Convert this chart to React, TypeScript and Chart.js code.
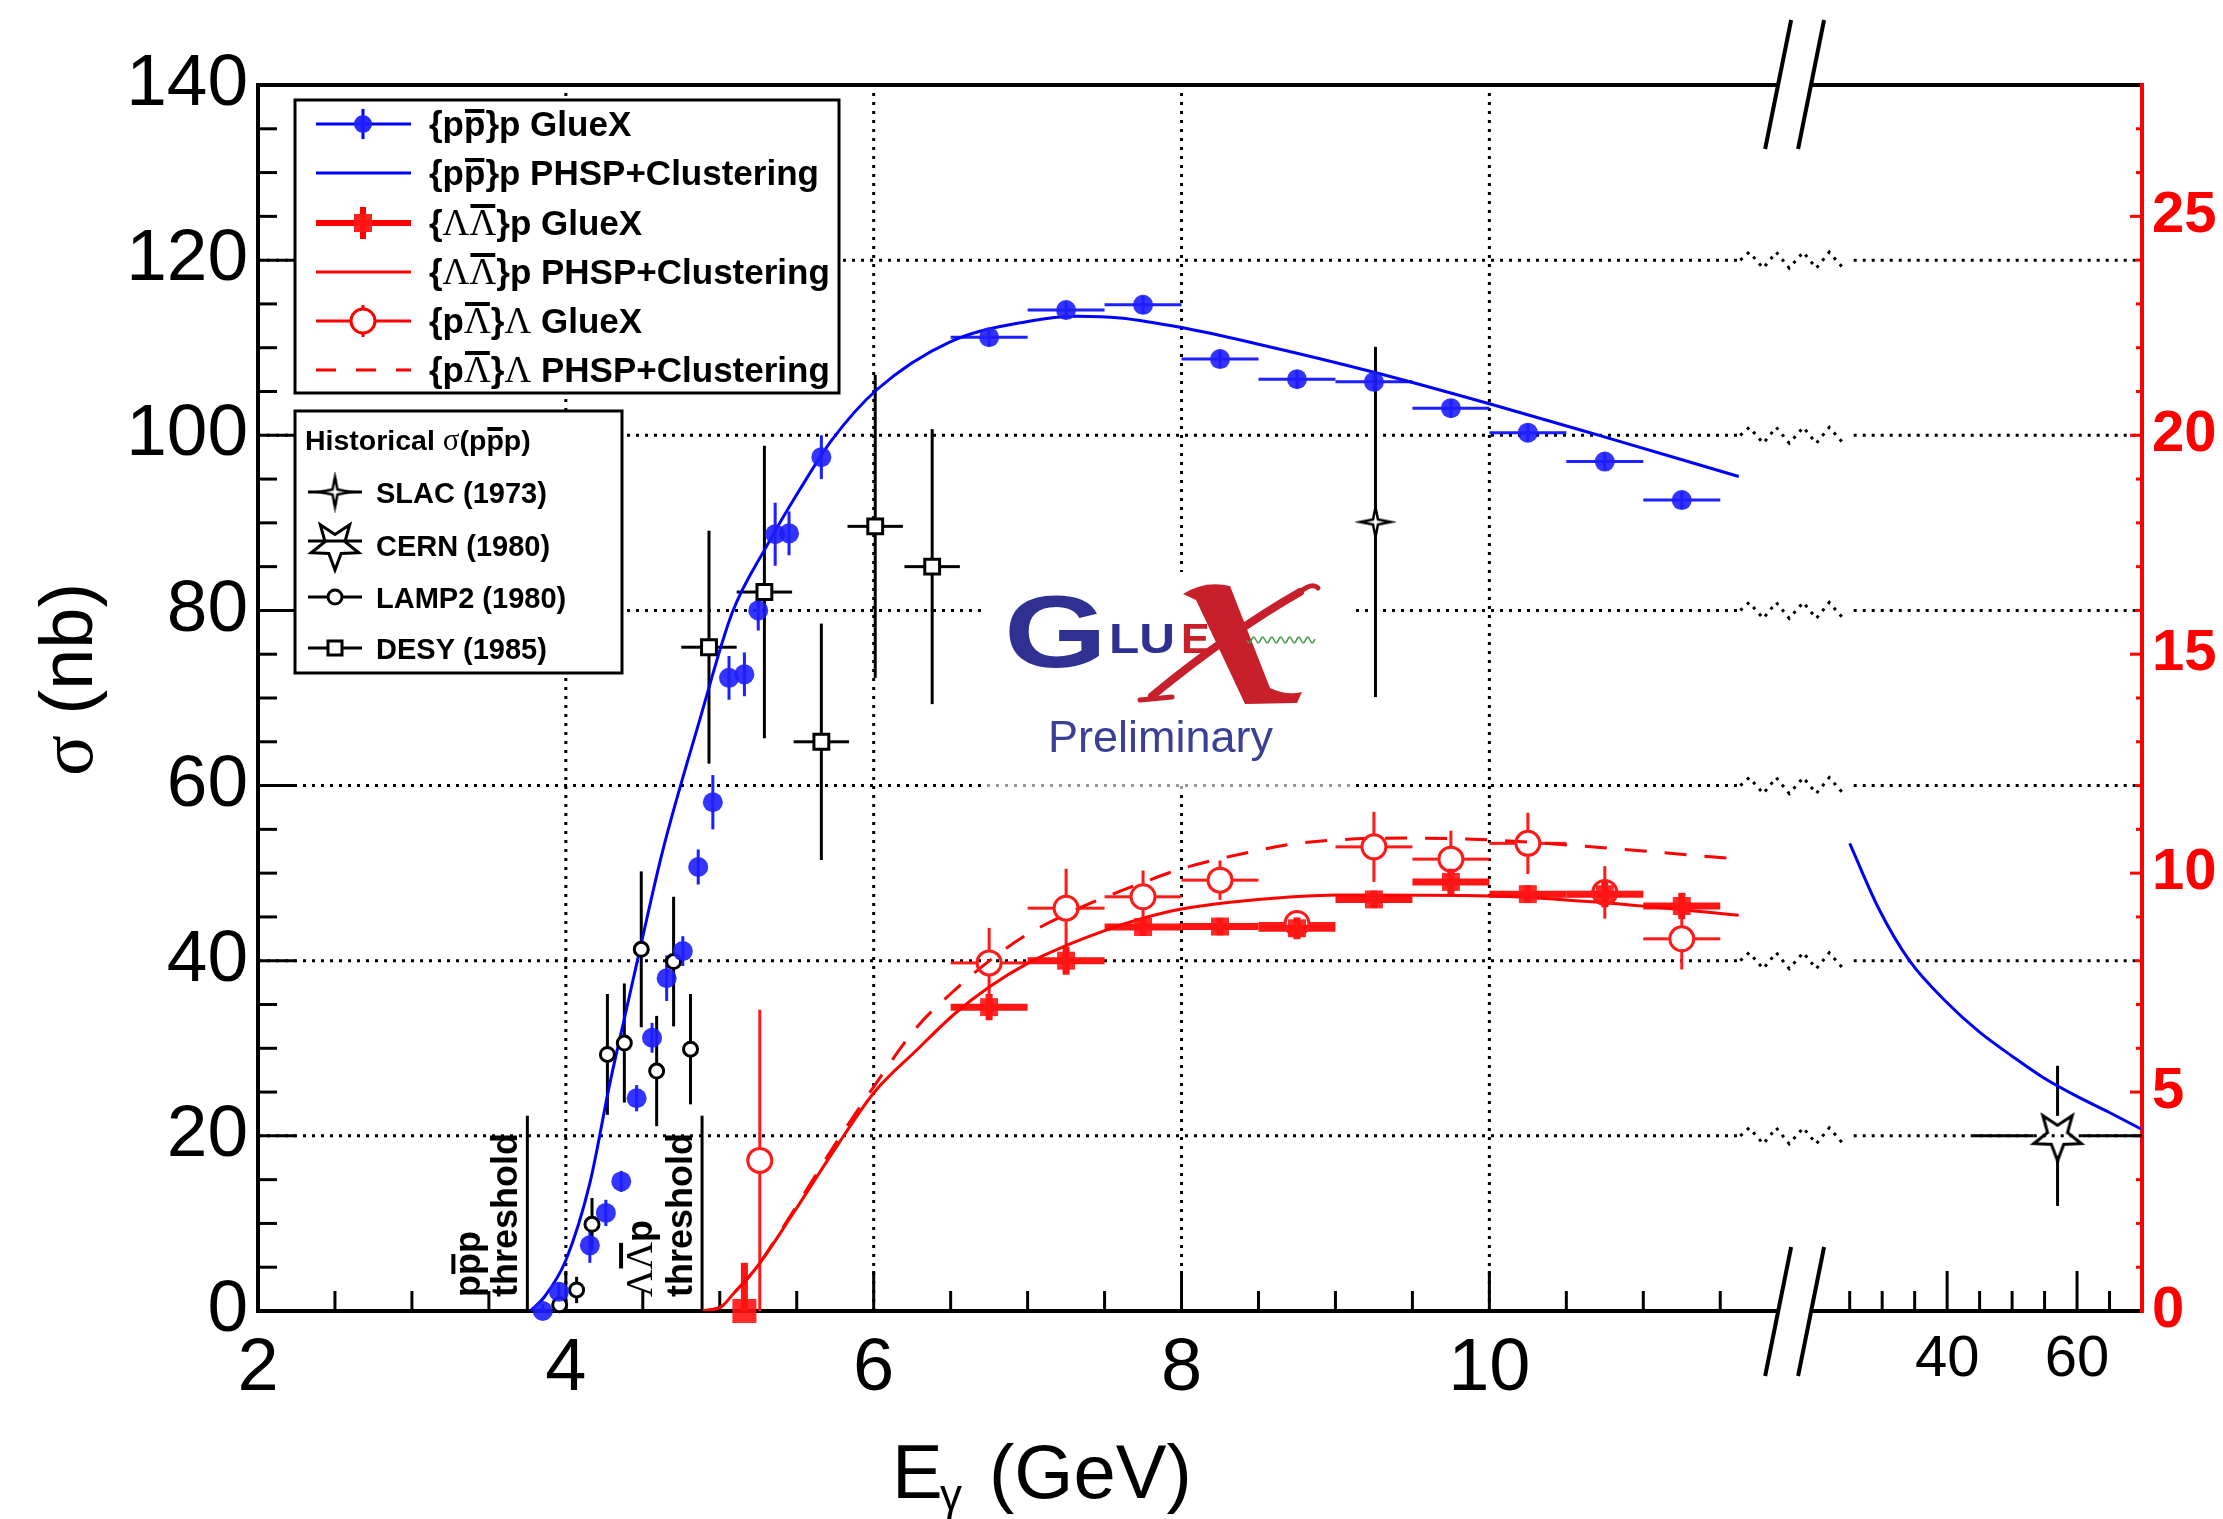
import React, { useEffect, useRef } from 'react';
import { Chart, registerables } from 'chart.js';

Chart.register(...registerables);

const FONT = '"Liberation Sans", Arial, Helvetica, sans-serif';
const SERIF = '"Liberation Serif", "Times New Roman", serif';

// ---- broken x axis: linear 2..~12 GeV, then 25..70 GeV compressed ----
const X_MIN = 2;
const X_MAX = 14.24;
const brk = (e: number) => 12.974 + (e - 40) * 0.0422;
const axisX = (e: number) => (e > 20 ? brk(e) : e);

const xTickValues = [2, 4, 6, 8, 10, 40, 60];
const xTickLabels = ['2', '4', '6', '8', '10', '40', '60'];

// ---- {p pbar}p GlueX ----
const blueE = [3.85, 3.955, 4.156, 4.26, 4.36, 4.46, 4.56, 4.655, 4.76, 4.86, 4.955, 5.06, 5.16, 5.25, 5.36, 5.45, 5.66,
  6.75, 7.25, 7.75, 8.25, 8.75, 9.25, 9.75, 10.25, 10.75, 11.25];
const blueSigma = [0.0, 2.2, 7.5, 11.2, 14.8, 24.3, 31.2, 38.0, 41.1, 50.7, 58.1, 72.3, 72.7, 80.0, 88.7, 88.8, 97.5,
  111.2, 114.3, 114.9, 108.7, 106.4, 106.1, 103.1, 100.3, 97.0, 92.6];
const blueErrY = [0.8, 1.0, 2.0, 1.5, 1.2, 1.5, 1.7, 2.6, 1.7, 2.0, 3.1, 2.5, 2.5, 2.3, 3.6, 2.5, 2.5,
  1, 1, 1, 1, 1, 1, 1, 1, 1, 1];
const blueErrX = [0, 0, 0, 0, 0, 0, 0, 0, 0, 0, 0, 0, 0, 0, 0, 0, 0,
  0.25, 0.25, 0.25, 0.25, 0.25, 0.25, 0.25, 0.25, 0.25, 0.25];

// ---- {p pbar}p PHSP+Clustering (nb) ----
const bluePhspE = [3.77, 3.86, 4.0, 4.156, 4.286, 4.383, 4.48, 4.63, 4.87, 5.08, 5.3, 5.52, 5.73, 6.02, 6.5, 7.0, 7.32, 7.6, 8.0, 8.5, 9.25, 10.0, 10.73, 11.62];
const bluePhsp = [0, 1.6, 5.8, 14.6, 26.0, 33.6, 41.2, 52.6, 67.5, 79.7, 87.2, 93.8, 99.5, 105.2, 110.7, 113.0, 113.6, 113.4, 112.3, 110.4, 107.2, 103.6, 99.9, 95.3];
const bluePhspHighE = [25, 29.5, 34.2, 40, 44.9, 50, 54.9, 60, 64.9, 69.8];
const bluePhspHigh = [53.4, 45.9, 40.0, 35.2, 31.9, 29.1, 26.6, 24.5, 22.7, 20.8];

// ---- {Lambda Lambdabar}p GlueX (right axis) ----
const llE = [5.16, 6.75, 7.25, 7.75, 8.25, 8.75, 9.25, 9.75, 10.25, 10.75, 11.25];
const llSigma = [0, 6.94, 8.0, 8.77, 8.78, 8.74, 9.4, 9.8, 9.52, 9.52, 9.25];
const llErrY = [1.1, 0.3, 0.32, 0.2, 0.2, 0.25, 0.2, 0.3, 0.2, 0.3, 0.3];
const llErrX = [0, 0.25, 0.25, 0.25, 0.25, 0.25, 0.25, 0.25, 0.25, 0.25, 0.25];

// ---- {Lambda Lambdabar}p PHSP+Clustering (right axis) ----
const llPhspE = [4.89, 5.01, 5.09, 5.24, 5.49, 5.73, 6.0, 6.28, 6.53, 6.75, 7.0, 7.26, 7.51, 7.75, 8.0, 8.3, 8.64, 9.03, 10.0, 10.76, 11.62];
const llPhsp = [0, 0.1, 0.4, 1.0, 2.3, 3.6, 4.98, 5.96, 6.8, 7.4, 7.94, 8.36, 8.7, 8.97, 9.18, 9.33, 9.44, 9.5, 9.48, 9.32, 9.04];

// ---- {p Lambdabar}Lambda GlueX (right axis) ----
const plE = [5.26, 6.75, 7.25, 7.75, 8.25, 8.75, 9.25, 9.75, 10.25, 10.75, 11.25];
const plSigma = [3.44, 7.95, 9.2, 9.46, 9.84, 8.85, 10.6, 10.32, 10.68, 9.56, 8.5];
const plErrY = [3.44, 0.8, 0.9, 0.6, 0.45, 0.25, 0.8, 0.65, 0.7, 0.6, 0.7];
const plErrX = [0, 0.25, 0.25, 0.25, 0.25, 0.25, 0.25, 0.25, 0.25, 0.25, 0.25];

// ---- {p Lambdabar}Lambda PHSP+Clustering (right axis) ----
const plPhspE = [4.89, 5.01, 5.09, 5.24, 5.49, 5.73, 6.0, 6.28, 6.53, 6.73, 6.97, 7.26, 7.51, 7.76, 8.0, 8.47, 8.8, 9.48, 10.0, 10.74, 11.62];
const plPhsp = [0, 0.1, 0.4, 1.0, 2.35, 3.7, 5.12, 6.48, 7.34, 7.94, 8.54, 9.08, 9.46, 9.8, 10.1, 10.5, 10.7, 10.8, 10.76, 10.58, 10.32];

// ---- historical ----
const slacE = [9.26];
const slacSigma = [90.1];
const slacErrY = [20];

const cernE = [57];
const cernSigma = [20];
const cernErrY = [8];
const cernErrE = [13];

const lampE = [3.96, 4.07, 4.17, 4.27, 4.38, 4.49, 4.59, 4.70, 4.81];
const lampSigma = [0.7, 2.4, 9.9, 29.3, 30.6, 41.3, 27.4, 39.9, 29.9];
const lampErrY = [0.8, 1.5, 3.0, 6.9, 6.8, 8.9, 6.3, 7.4, 6.3];

const desyE = [4.93, 5.29, 5.66, 6.01, 6.38];
const desySigma = [75.8, 82.1, 65.0, 89.6, 85.0];
const desyErrY = [13.3, 16.7, 13.5, 17.3, 15.7];
const desyErrX = [0.18, 0.18, 0.18, 0.18, 0.18];

// thresholds (GeV)
const thrPPP = 3.75;
const thrLLP = 4.885;
const thrTop = 22.3;

const pts = (xs: number[], ys: number[]) => xs.map((x, i) => ({ x: axisX(x), y: ys[i] }));

function makeStar(n: number, R: number, r: number, rot: number, lw: number, fill: string | null) {
  const size = Math.ceil(2 * R + lw * 2 + 6);
  const c = document.createElement('canvas');
  c.width = size;
  c.height = size;
  const g = c.getContext('2d')!;
  const cx = size / 2, cy = size / 2;
  g.beginPath();
  for (let i = 0; i < 2 * n; i++) {
    const ang = rot + (i * Math.PI) / n;
    const rr = i % 2 === 0 ? R : r;
    const px = cx + rr * Math.cos(ang), py = cy + rr * Math.sin(ang);
    if (i === 0) g.moveTo(px, py); else g.lineTo(px, py);
  }
  g.closePath();
  if (fill) { g.fillStyle = fill; g.fill(); }
  g.lineWidth = lw;
  g.strokeStyle = '#000';
  g.lineJoin = 'miter';
  g.stroke();
  return c;
}

type Seg = { t: string; f: string; o?: number };
function richText(ctx: CanvasRenderingContext2D, x: number, y: number, segs: Seg[]) {
  let cx = x;
  for (const s of segs) {
    ctx.font = s.f;
    const w = ctx.measureText(s.t).width;
    ctx.fillText(s.t, cx, y);
    if (s.o !== undefined) ctx.fillRect(cx + 1, y - s.o, w - 2, 4);
    cx += w;
  }
  return cx;
}

function line(ctx: CanvasRenderingContext2D, x1: number, y1: number, x2: number, y2: number) {
  ctx.beginPath();
  ctx.moveTo(x1, y1);
  ctx.lineTo(x2, y2);
  ctx.stroke();
}

function drawLogo(ctx: CanvasRenderingContext2D) {
  ctx.save();
  ctx.fillStyle = '#fff';
  ctx.fillRect(985, 572, 367, 208);
  ctx.fillStyle = 'rgba(255,255,255,0.6)';
  ctx.fillRect(985, 780, 367, 10);
  ctx.fillStyle = '#2e3192';
  ctx.save(); ctx.translate(1004, 667); ctx.scale(1.3, 1); ctx.font = `bold 102px ${FONT}`; ctx.fillText('G', 0, 0); ctx.restore();
  ctx.save(); ctx.translate(1109, 653); ctx.scale(1.15, 1); ctx.font = `bold 43px ${FONT}`; ctx.fillText('LU', 0, 0); ctx.restore();
  ctx.fillStyle = '#c8202a';
  ctx.save(); ctx.translate(1181, 653); ctx.font = `bold 43px ${FONT}`; ctx.fillText('E', 0, 0); ctx.restore();
  // calligraphic X
  ctx.beginPath();
  ctx.moveTo(1183, 594);
  ctx.quadraticCurveTo(1205, 580, 1230, 586);
  ctx.lineTo(1270, 688);
  ctx.quadraticCurveTo(1287, 696, 1302, 692);
  ctx.lineTo(1297, 703);
  ctx.lineTo(1245, 704);
  ctx.quadraticCurveTo(1215, 640, 1196, 600);
  ctx.closePath();
  ctx.fill();
  ctx.strokeStyle = '#c8202a';
  ctx.lineCap = 'round';
  ctx.lineWidth = 8;
  ctx.beginPath();
  ctx.moveTo(1300, 592);
  ctx.quadraticCurveTo(1230, 632, 1152, 696);
  ctx.stroke();
  ctx.lineWidth = 5;
  ctx.beginPath();
  ctx.moveTo(1300, 592);
  ctx.quadraticCurveTo(1312, 582, 1318, 588);
  ctx.stroke();
  ctx.beginPath();
  ctx.moveTo(1140, 700);
  ctx.lineTo(1172, 697);
  ctx.stroke();
  ctx.lineCap = 'butt';
  ctx.strokeStyle = '#4c9a4c';
  ctx.lineWidth = 1.5;
  ctx.beginPath();
  for (let xx = 1247; xx <= 1315; xx++) {
    const yy = 640 + 3 * Math.sin(((xx - 1247) / 9) * 2 * Math.PI);
    if (xx === 1247) ctx.moveTo(xx, yy); else ctx.lineTo(xx, yy);
  }
  ctx.stroke();
  ctx.fillStyle = '#3b3f95';
  ctx.font = `45px ${FONT}`;
  ctx.fillText('Preliminary', 1048, 752);
  ctx.restore();
}

export default function App() {
  const ref = useRef<HTMLCanvasElement>(null);

  useEffect(() => {
    const canvas = ref.current!;
    const star5 = makeStar(5, 25, 10.5, Math.PI / 2, 3, null);
    const star5Leg = makeStar(5, 25, 10.5, Math.PI / 2, 3, null);
    const star4 = makeStar(4, 15, 3.5, 0, 2.5, '#fff');

    const decor = {
      id: 'decor',
      beforeDatasetsDraw(chart: any) {
        const ctx: CanvasRenderingContext2D = chart.ctx;
        const a = chart.chartArea;
        const xs = chart.scales.x, ys = chart.scales.y, y2s = chart.scales.y2;
        const X = (v: number) => xs.getPixelForValue(v);
        const Y = (v: number) => ys.getPixelForValue(v);
        const Y2 = (v: number) => y2s.getPixelForValue(v);
        ctx.save();
        ctx.textAlign = 'left';
        ctx.textBaseline = 'alphabetic';

        // ---- dotted grid ----
        ctx.strokeStyle = '#000';
        ctx.lineWidth = 3;
        ctx.setLineDash([3, 6]);
        for (const v of [4, 6, 8, 10]) line(ctx, X(v), a.bottom, X(v), a.top);
        const zs = X(11.63);
        const zig = [[0, 0], [9, -8], [23, 8], [36, -8], [49, 8], [63, -8], [76, 8], [89, -8], [103, 8]];
        const rs = X(brk(25)) + 4;
        for (const v of [20, 40, 60, 80, 100, 120]) {
          const py = Y(v);
          line(ctx, a.left, py, zs, py);
          ctx.beginPath();
          zig.forEach(([dx, dy], i) => (i === 0 ? ctx.moveTo(zs + dx, py + dy) : ctx.lineTo(zs + dx, py + dy)));
          ctx.stroke();
          line(ctx, rs, py, a.right, py);
        }
        ctx.setLineDash([]);

        drawLogo(ctx);

        // ---- thresholds ----
        ctx.strokeStyle = '#000';
        ctx.fillStyle = '#000';
        ctx.lineWidth = 3;
        for (const t of [thrPPP, thrLLP]) line(ctx, X(t), Y(0), X(t), Y(thrTop));
        const TB = `bold 36px ${FONT}`;
        const TS = `38px ${SERIF}`;
        const rot = (bx: number, by: number, segs: Seg[]) => {
          ctx.save(); ctx.translate(bx, by); ctx.rotate(-Math.PI / 2); richText(ctx, 0, 0, segs); ctx.restore();
        };
        rot(X(thrPPP) - 10, 1297, [{ t: 'threshold', f: TB }]);
        rot(X(thrPPP) - 47, 1297, [{ t: 'p', f: TB }, { t: 'p', f: TB, o: 29 }, { t: 'p', f: TB }]);
        rot(X(thrLLP) - 10, 1297, [{ t: 'threshold', f: TB }]);
        rot(X(thrLLP) - 50, 1297, [{ t: 'Λ', f: TS }, { t: 'Λ', f: TS, o: 33 }, { t: 'p', f: TB }]);

        // ---- frame & axes ----
        const b1 = X(11.876), b2 = X(12.09);
        ctx.lineWidth = 4;
        ctx.strokeStyle = '#000';
        line(ctx, a.left, a.top, a.left, a.bottom);
        line(ctx, a.left - 2, a.bottom, b1, a.bottom);
        line(ctx, b2, a.bottom, a.right, a.bottom);
        line(ctx, a.left - 2, a.top, b1, a.top);
        line(ctx, b2, a.top, a.right, a.top);
        // ticks
        ctx.lineWidth = 3;
        for (let v = 5; v < 140; v += 5) {
          const len = v % 20 === 0 ? 38 : 19;
          line(ctx, a.left, Y(v), a.left + len, Y(v));
        }
        for (let e = 2.5; e <= 11.5; e += 0.5) {
          const len = e % 2 === 0 ? 40 : 20;
          line(ctx, X(e), a.bottom, X(e), a.bottom - len);
        }
        for (let e = 25; e <= 65; e += 5) {
          const len = e === 40 || e === 60 ? 40 : 20;
          line(ctx, X(brk(e)), a.bottom, X(brk(e)), a.bottom - len);
        }
        ctx.strokeStyle = '#ff0000';
        for (let v = 1; v < 28; v++) {
          const len = v % 5 === 0 ? 12 : 6;
          line(ctx, a.right, Y2(v), a.right - len, Y2(v));
        }
        ctx.lineWidth = 4;
        line(ctx, a.right, a.top - 2, a.right, a.bottom + 2);
        // break marks
        ctx.strokeStyle = '#000';
        ctx.lineWidth = 4;
        for (const bx of [b1, b2]) {
          line(ctx, bx - 13, a.top + 64, bx + 13, a.top - 65);
          line(ctx, bx - 13, a.bottom + 65, bx + 13, a.bottom - 64);
        }

        // ---- axis titles ----
        ctx.fillStyle = '#000';
        ctx.save();
        ctx.translate(92, 776);
        ctx.rotate(-Math.PI / 2);
        richText(ctx, 0, 0, [{ t: 'σ', f: `76px ${SERIF}` }, { t: ' (nb)', f: `74px ${FONT}` }]);
        ctx.restore();
        ctx.font = `76px ${FONT}`;
        ctx.fillText('E', 892, 1498);
        ctx.font = `44px ${FONT}`;
        ctx.fillText('γ', 940, 1510);
        ctx.font = `76px ${FONT}`;
        ctx.fillText('(GeV)', 989, 1498);

        // ---- error bars ----
        chart.data.datasets.forEach((ds: any, i: number) => {
          if (!ds.errY && !ds.errX) return;
          const meta = chart.getDatasetMeta(i);
          const sc = chart.scales[ds.yAxisID || 'y'];
          ctx.strokeStyle = ds.errColor;
          ctx.lineWidth = ds.errWidth;
          const gy = ds.errGapY || 0, gx = ds.errGapX || 0;
          meta.data.forEach((pt: any, j: number) => {
            const raw = ds.data[j];
            const px = pt.x, py = pt.y;
            const ey = ds.errY ? ds.errY[j] : 0;
            const ex = ds.errX ? ds.errX[j] : 0;
            if (ey > 0) {
              const top = Math.max(a.top, sc.getPixelForValue(raw.y + ey));
              const bot = Math.min(a.bottom, sc.getPixelForValue(raw.y - ey));
              if (top < py - gy) line(ctx, px, top, px, py - gy);
              if (bot > py + gy) line(ctx, px, py + gy, px, bot);
            }
            if (ex > 0) {
              const l = Math.max(a.left, xs.getPixelForValue(raw.x - ex));
              const r = Math.min(a.right, xs.getPixelForValue(raw.x + ex));
              if (l < px - gx) line(ctx, l, py, px - gx, py);
              if (r > px + gx) line(ctx, px + gx, py, r, py);
            }
          });
        });
        ctx.restore();
      },
      afterDatasetsDraw(chart: any) {
        const ctx: CanvasRenderingContext2D = chart.ctx;
        ctx.save();
        ctx.textAlign = 'left';
        ctx.textBaseline = 'alphabetic';
        ctx.setLineDash([]);
        // ---- legend 1 ----
        ctx.fillStyle = '#fff';
        ctx.fillRect(295, 100, 544, 293);
        ctx.strokeStyle = '#000';
        ctx.lineWidth = 3;
        ctx.strokeRect(295, 100, 544, 293);
        const rows = [124, 173, 223, 272, 321, 370];
        const x0 = 316, x1 = 411, xc = 363;
        ctx.strokeStyle = '#0000ff'; ctx.fillStyle = 'rgba(30,30,255,0.95)'; ctx.lineWidth = 3;
        line(ctx, x0, rows[0], x1, rows[0]); line(ctx, xc, rows[0] - 15, xc, rows[0] + 15);
        ctx.beginPath(); ctx.arc(xc, rows[0], 9, 0, Math.PI * 2); ctx.fill();
        line(ctx, x0, rows[1], x1, rows[1]);
        ctx.strokeStyle = '#ff0000'; ctx.fillStyle = 'rgba(255,20,20,0.95)'; ctx.lineWidth = 6;
        line(ctx, x0, rows[2], x1, rows[2]); line(ctx, xc, rows[2] - 16, xc, rows[2] + 16);
        ctx.fillRect(xc - 9, rows[2] - 9, 18, 18);
        ctx.lineWidth = 3;
        line(ctx, x0, rows[3], x1, rows[3]);
        line(ctx, x0, rows[4], xc - 12, rows[4]); line(ctx, xc + 12, rows[4], x1, rows[4]);
        line(ctx, xc, rows[4] - 16, xc, rows[4] - 12); line(ctx, xc, rows[4] + 12, xc, rows[4] + 16);
        ctx.beginPath(); ctx.arc(xc, rows[4], 12, 0, Math.PI * 2); ctx.stroke();
        ctx.setLineDash([20, 20]);
        line(ctx, x0, rows[5], x1, rows[5]);
        ctx.setLineDash([]);
        ctx.fillStyle = '#000';
        const B = `bold 35px ${FONT}`;
        const S = `37px ${SERIF}`;
        const tx = 429;
        richText(ctx, tx, rows[0] + 12, [{ t: '{p', f: B }, { t: 'p', f: B, o: 27 }, { t: '}p GlueX', f: B }]);
        richText(ctx, tx, rows[1] + 12, [{ t: '{p', f: B }, { t: 'p', f: B, o: 27 }, { t: '}p PHSP+Clustering', f: B }]);
        richText(ctx, tx, rows[2] + 12, [{ t: '{', f: B }, { t: 'Λ', f: S }, { t: 'Λ', f: S, o: 31 }, { t: '}p GlueX', f: B }]);
        richText(ctx, tx, rows[3] + 12, [{ t: '{', f: B }, { t: 'Λ', f: S }, { t: 'Λ', f: S, o: 31 }, { t: '}p PHSP+Clustering', f: B }]);
        richText(ctx, tx, rows[4] + 12, [{ t: '{p', f: B }, { t: 'Λ', f: S, o: 31 }, { t: '}', f: B }, { t: 'Λ', f: S }, { t: ' GlueX', f: B }]);
        richText(ctx, tx, rows[5] + 12, [{ t: '{p', f: B }, { t: 'Λ', f: S, o: 31 }, { t: '}', f: B }, { t: 'Λ', f: S }, { t: ' PHSP+Clustering', f: B }]);

        // ---- legend 2 ----
        ctx.fillStyle = '#fff';
        ctx.fillRect(295, 411, 327, 262);
        ctx.strokeStyle = '#000';
        ctx.lineWidth = 3;
        ctx.strokeRect(295, 411, 327, 262);
        ctx.fillStyle = '#000';
        const TB2 = `bold 28.5px ${FONT}`;
        richText(ctx, 305, 450, [{ t: 'Historical ', f: TB2 }, { t: 'σ', f: `31px ${SERIF}` }, { t: '(p', f: TB2 }, { t: 'p', f: TB2, o: 23 }, { t: 'p)', f: TB2 }]);
        const r2 = [492, 545, 597, 648];
        const lx0 = 308, lx1 = 362, lc = 335;
        ctx.lineWidth = 3;
        line(ctx, lx0, r2[0], lx1, r2[0]); line(ctx, lc, r2[0] - 13, lc, r2[0] + 13);
        ctx.drawImage(star4, lc - star4.width / 2, r2[0] - star4.height / 2);
        line(ctx, lx0, r2[1] - 4, lx1, r2[1] - 4);
        ctx.drawImage(star5Leg, lc - star5Leg.width / 2, r2[1] - star5Leg.height / 2);
        line(ctx, lx0, r2[2], lx1, r2[2]);
        ctx.fillStyle = '#fff';
        ctx.beginPath(); ctx.arc(lc, r2[2], 7, 0, Math.PI * 2); ctx.fill(); ctx.stroke();
        line(ctx, lx0, r2[3], lx1, r2[3]);
        ctx.fillRect(lc - 7, r2[3] - 7, 14, 14); ctx.strokeRect(lc - 7, r2[3] - 7, 14, 14);
        ctx.fillStyle = '#000';
        ctx.font = `bold 29px ${FONT}`;
        ctx.fillText('SLAC (1973)', 376, r2[0] + 11);
        ctx.fillText('CERN (1980)', 376, r2[1] + 11);
        ctx.fillText('LAMP2 (1980)', 376, r2[2] + 11);
        ctx.fillText('DESY (1985)', 376, r2[3] + 11);
        ctx.restore();
      },
    };

    const curve = (data: any[], color: string, axis: string, dash: number[], order: number) => ({
      data,
      yAxisID: axis,
      showLine: true,
      borderColor: color,
      borderWidth: 3,
      borderDash: dash,
      pointRadius: 0,
      cubicInterpolationMode: 'monotone',
      fill: false,
      order,
    });

    const config: any = {
      type: 'scatter',
      data: {
        datasets: [
          {
            label: '{pp̄}p GlueX', data: pts(blueE, blueSigma), yAxisID: 'y', order: 0, clip: false,
            pointStyle: 'circle', pointRadius: 10, pointBackgroundColor: 'rgba(30,30,255,0.9)', pointBorderWidth: 0,
            errY: blueErrY, errX: blueErrX, errColor: '#1e1eff', errWidth: 3,
          },
          {
            label: '{ΛΛ̄}p GlueX', data: pts(llE, llSigma), yAxisID: 'y2', order: 1, clip: false,
            pointStyle: 'rect', pointRadius: llE.map((_, i) => (i === 0 ? 17 : 12.7)), pointBackgroundColor: 'rgba(255,20,20,0.9)', pointBorderWidth: 0,
            errY: llErrY, errX: llErrX, errColor: '#ff1414', errWidth: 7,
          },
          {
            label: '{pΛ̄}Λ GlueX', data: pts(plE, plSigma), yAxisID: 'y2', order: 2, clip: false,
            pointStyle: 'circle', pointRadius: 12, pointBackgroundColor: 'rgba(0,0,0,0)', pointBorderColor: '#ff1a1a', pointBorderWidth: 3,
            errY: plErrY, errX: plErrX, errColor: '#ff1a1a', errWidth: 3, errGapX: 13, errGapY: 13,
          },
          {
            label: 'SLAC (1973)', data: pts(slacE, slacSigma), yAxisID: 'y', order: 3, clip: false,
            pointStyle: star4, pointRadius: 14,
            errY: slacErrY, errColor: '#000', errWidth: 3, errGapY: 9,
          },
          {
            label: 'CERN (1980)', data: pts(cernE, cernSigma), yAxisID: 'y', order: 4, clip: false,
            pointStyle: star5, pointRadius: 25,
            errY: cernErrY, errX: cernErrE.map((e, i) => brk(cernE[i]) - brk(cernE[i] - e)),
            errColor: '#000', errWidth: 3, errGapX: 24, errGapY: 20,
          },
          {
            label: 'LAMP2 (1980)', data: pts(lampE, lampSigma), yAxisID: 'y', order: 5, clip: false,
            pointStyle: 'circle', pointRadius: 7, pointBackgroundColor: '#fff', pointBorderColor: '#000', pointBorderWidth: 3,
            errY: lampErrY, errColor: '#000', errWidth: 3, errGapY: 7,
          },
          {
            label: 'DESY (1985)', data: pts(desyE, desySigma), yAxisID: 'y', order: 6, clip: false,
            pointStyle: 'rect', pointRadius: 10.5, pointBackgroundColor: '#fff', pointBorderColor: '#000', pointBorderWidth: 3,
            errY: desyErrY, errX: desyErrX, errColor: '#000', errWidth: 3, errGapX: 7, errGapY: 7,
          },
          { label: '{pp̄}p PHSP+Clustering', ...curve(pts(bluePhspE, bluePhsp), '#0000ff', 'y', [], 10) },
          { label: '{pp̄}p PHSP+Clustering (high E)', ...curve(pts(bluePhspHighE, bluePhspHigh), '#0000ff', 'y', [], 11) },
          { label: '{ΛΛ̄}p PHSP+Clustering', ...curve(pts(llPhspE, llPhsp), '#ff0000', 'y2', [], 12) },
          { label: '{pΛ̄}Λ PHSP+Clustering', ...curve(pts(plPhspE, plPhsp), '#ff0000', 'y2', [22, 18], 13) },
        ],
      },
      options: {
        animation: false,
        responsive: false,
        devicePixelRatio: 1,
        layout: { padding: { top: 85, left: 0, right: 0, bottom: 0 } },
        plugins: { legend: { display: false }, tooltip: { enabled: false }, title: { display: false } },
        scales: {
          x: {
            type: 'linear', position: 'bottom', min: X_MIN, max: X_MAX,
            grid: { display: false, drawTicks: false }, border: { display: false },
            afterBuildTicks: (s: any) => { s.ticks = xTickValues.map((v) => ({ value: axisX(v) })); },
            afterFit: (s: any) => { s.height = 208; },
            ticks: {
              autoSkip: false, maxRotation: 0, minRotation: 0, padding: 14, color: '#000',
              font: (c: any) => ({ family: FONT, size: c.index >= 5 ? 58 : 74 }),
              callback: (_v: any, i: number) => xTickLabels[i],
            },
          },
          y: {
            position: 'left', min: 0, max: 140,
            grid: { display: false, drawTicks: false }, border: { display: false },
            afterFit: (s: any) => { s.width = 258; },
            ticks: { stepSize: 20, padding: 10, color: '#000', font: { family: FONT, size: 73 } },
          },
          y2: {
            position: 'right', min: 0, max: 28,
            grid: { display: false, drawTicks: false }, border: { display: false },
            afterFit: (s: any) => { s.width = 81; },
            ticks: { stepSize: 5, includeBounds: false, padding: 10, color: '#ff0000', font: { family: FONT, size: 58, weight: 'bold' } },
          },
        },
      },
      plugins: [decor],
    };

    const chart = new Chart(canvas, config);
    return () => chart.destroy();
  }, []);

  return (
    <div style={{ position: 'absolute', left: 0, top: 0, width: 2223, height: 1519, background: '#fff' }}>
      <canvas ref={ref} width={2223} height={1519} style={{ display: 'block', width: 2223, height: 1519 }} />
    </div>
  );
}
